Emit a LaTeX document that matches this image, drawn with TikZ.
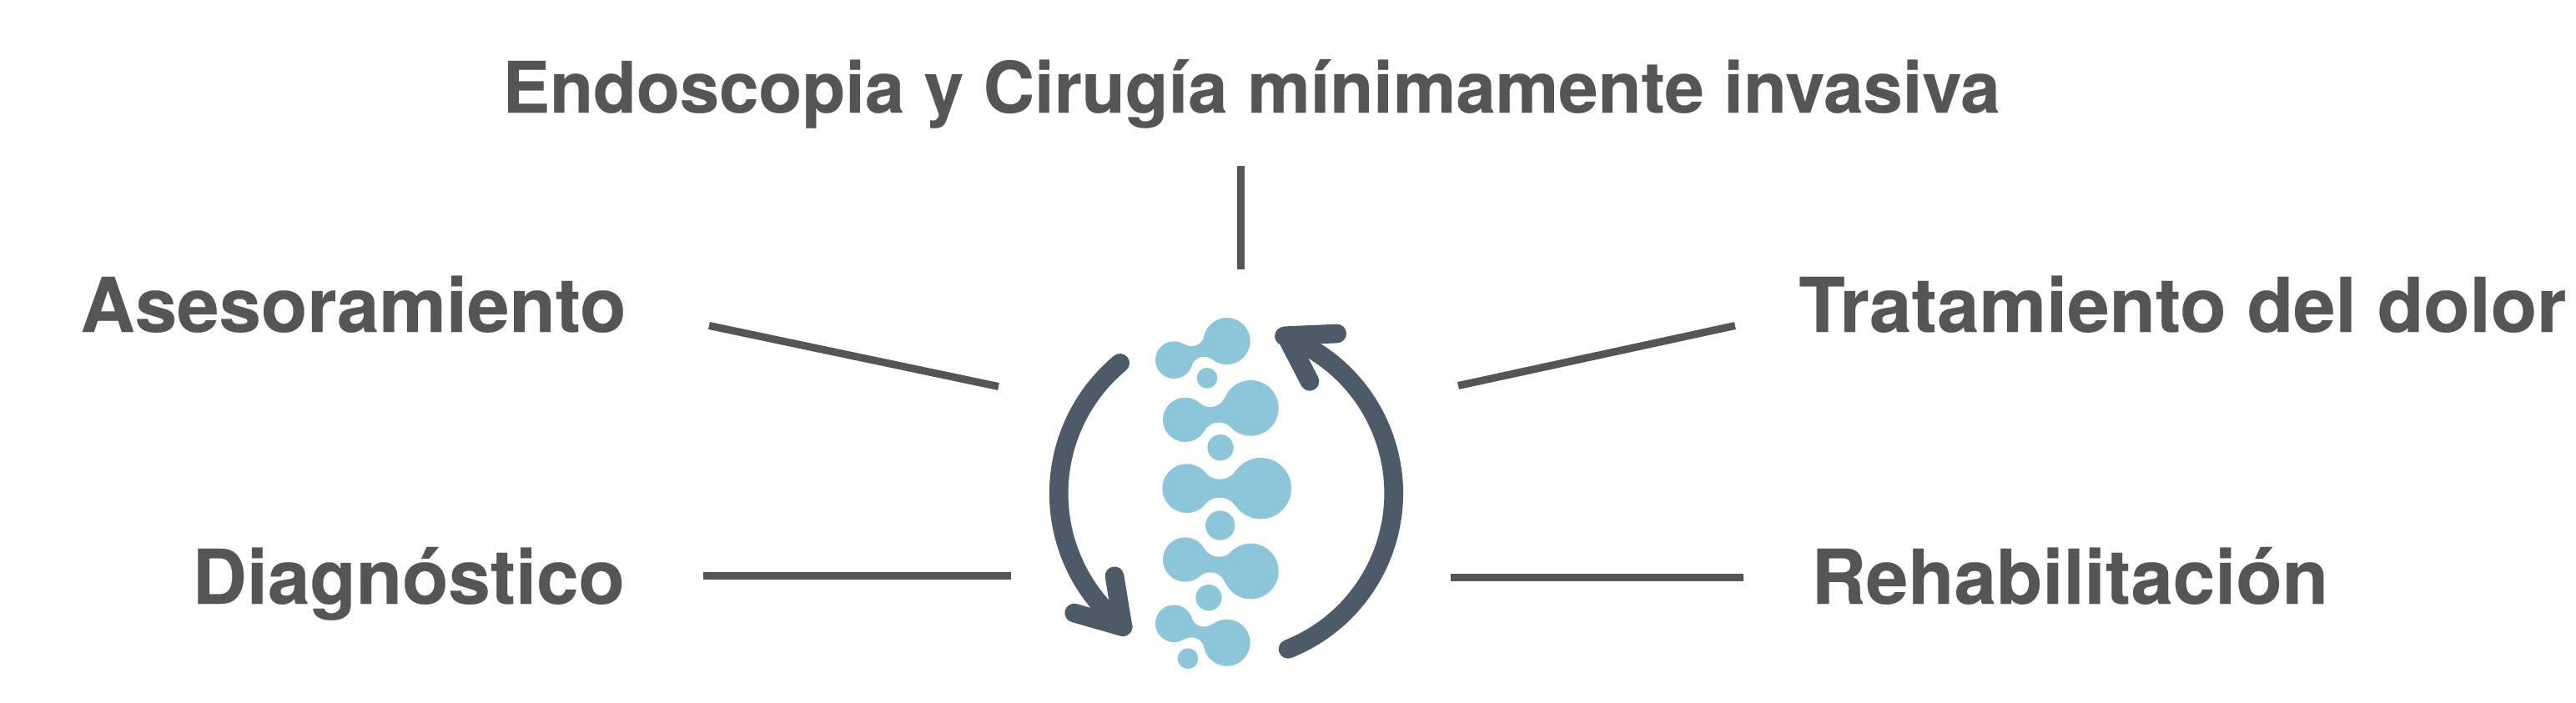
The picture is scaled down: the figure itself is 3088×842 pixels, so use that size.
\documentclass[tikz,border=0pt]{standalone}
\usepackage{fontspec}
\setmainfont{TeX Gyre Heros}[BoldFeatures={FakeBold=0.25}]
\definecolor{labelgray}{HTML}{555555}
\definecolor{blobblue}{HTML}{8DC6D9}
\definecolor{arrowslate}{HTML}{4D5B69}
\tikzset{
  lab/.style={font=\fontsize{45.3}{46}\selectfont\bfseries,text=labelgray,inner sep=0pt,anchor=base west},
  toplab/.style={lab,font=\fontsize{42.5}{43}\selectfont\bfseries},
  spoke/.style={draw=labelgray,line width=4.5pt},
  slateline/.style={draw=arrowslate,line width=11.33pt,line cap=round,line join=round},
  neck/.style={fill=blobblue},
  gap/.style={fill=white}
}
\begin{document}
\begin{tikzpicture}[x=0.5pt,y=-0.5pt]
\useasboundingbox (0,0) rectangle (3088,842);
\node[toplab] (top) at (602,135) {Endoscopia y Cirugía mínimamente invasiva};
\node[lab] (ase) at (96,398) {Asesoramiento};
\node[lab] (dia) at (230,724) {Diagnóstico};
\node[lab] (tra) at (2156,398) {Tratamiento del dolor};
\node[lab] (reh) at (2171,724) {Rehabilitación};
\coordinate (t1) at (1487,199); \coordinate (t2) at (1487,323);
\coordinate (a1) at (850,390.5); \coordinate (a2) at (1197,463.5);
\coordinate (d1) at (843,690); \coordinate (d2) at (1212,690);
\coordinate (b1) at (2080,390.5); \coordinate (b2) at (1748,462.5);
\coordinate (r1) at (2090,692); \coordinate (r2) at (1739,692);
\draw[spoke] (t1) -- (t2);
\draw[spoke] (a1) -- (a2);
\draw[spoke] (d1) -- (d2);
\draw[spoke] (b1) -- (b2);
\draw[spoke] (r1) -- (r2);
\begin{scope}[shift={(1240,350)},x=0.16667pt,y=-0.16667pt]
% necks: polygon through the lobe and fillet centres, fillets cut out
\fill[neck] (502,245) -- (565,149) -- (692,177) -- (610,281) -- cycle;
\fill[gap] (565,149) circle[radius=46]; \fill[gap] (610,281) circle[radius=47];
\fill[neck] (542,460) -- (632,357) -- (778,418) -- (664,531) -- cycle;
\fill[gap] (632,357) circle[radius=57]; \fill[gap] (664,531) circle[radius=61];
\fill[neck] (548,707) -- (666,607) -- (814,707) -- (666,808) -- cycle;
\fill[gap] (666,607) circle[radius=67]; \fill[gap] (666,808) circle[radius=68];
\fill[neck] (542,963) -- (664,892) -- (778,1005) -- (632,1066) -- cycle;
\fill[gap] (664,892) circle[radius=61]; \fill[gap] (632,1066) circle[radius=57];
\fill[neck] (502,1193) -- (610,1157) -- (692,1262) -- (565,1289) -- cycle;
\fill[gap] (610,1157) circle[radius=47]; \fill[gap] (565,1289) circle[radius=46];
% lobes
\fill[blobblue] (502,245) circle[radius=67];
\fill[blobblue] (692,177) circle[radius=84];
\fill[blobblue] (542,460) circle[radius=80];
\fill[blobblue] (778,418) circle[radius=100];
\fill[blobblue] (548,707) circle[radius=88];
\fill[blobblue] (814,707) circle[radius=110];
\fill[blobblue] (542,963) circle[radius=80];
\fill[blobblue] (778,1005) circle[radius=100];
\fill[blobblue] (502,1193) circle[radius=67];
\fill[blobblue] (692,1262) circle[radius=84];
% dots
\fill[blobblue] (621,310) circle[radius=37];
\fill[blobblue] (669,560) circle[radius=47];
\fill[blobblue] (668,840) circle[radius=53];
\fill[blobblue] (627,1100) circle[radius=47];
\fill[blobblue] (552,1319) circle[radius=37];
% right arrow
\draw[slateline] (912,1285) arc[start angle=68.3,end angle=-69.7,radius=603];
\draw[slateline] (1088,150) -- (905,158) -- (990,322);
% left arrow
\draw[slateline] (308,256) arc[start angle=230.3,end angle=128.4,radius=610];
\draw[slateline] (288,1022) -- (318,1205) -- (143,1155);
\end{scope}
\end{tikzpicture}
\end{document}
